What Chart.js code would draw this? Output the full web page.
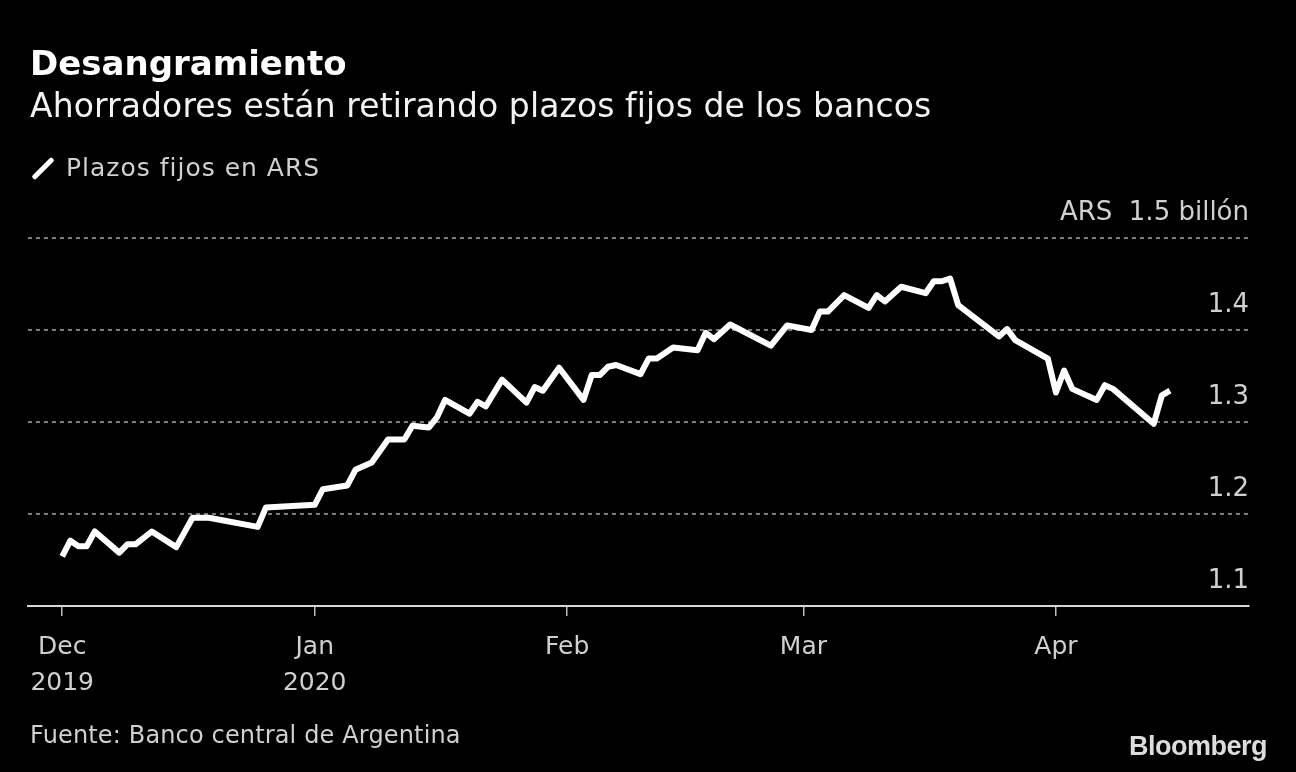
<!DOCTYPE html>
<html lang="es">
<head>
<meta charset="utf-8">
<title>Desangramiento</title>
<script src="https://cdn.jsdelivr.net/npm/chart.js@4.4.1/dist/chart.umd.min.js"></script>
<style>
  body { margin: 0; background: #000; }
  #wrap { position: relative; width: 1296px; height: 772px; background: #000; overflow: hidden; }
  #wrap canvas { position: absolute; left: 0; top: 0; }
  .txt { position: absolute; left: 30px; white-space: nowrap; line-height: 1; font-family: "DejaVu Sans", sans-serif; }
  .title { top: 46px; font-size: 34px; font-weight: bold; color: #fff; }
  .sub { top: 89px; font-size: 33px; letter-spacing: 0.1px; color: #f2f2f2; }
  .legend { top: 155px; left: 66px; font-size: 25px; letter-spacing: 1px; color: #d0d0d0; }
  .swatch { position: absolute; left: 29px; top: 166px; width: 28px; height: 5px; background: #fff; border-radius: 2px; transform: rotate(-45deg); }
  .source { top: 723px; font-size: 24px; letter-spacing: 0.15px; color: #d0d0d0; }
  .logo { position: absolute; left: 1129px; top: 731px; font-family: "Liberation Sans", Arial, sans-serif; font-weight: bold; font-size: 27px; letter-spacing: -0.5px; color: #dcdcdc; }
</style>
</head>
<body>
<div id="wrap">
  <canvas id="plazos" width="1296" height="772"></canvas>
  <div class="txt title">Desangramiento</div>
  <div class="txt sub">Ahorradores están retirando plazos fijos de los bancos</div>
  <div class="swatch"></div>
  <div class="txt legend">Plazos fijos en ARS</div>
  <div class="txt source">Fuente: Banco central de Argentina</div>
  <div class="logo">Bloomberg</div>
</div>
<script>
// plazos fijos, billones de ARS
const fechas = [
  '2019-12-01','2019-12-02','2019-12-03','2019-12-04','2019-12-05','2019-12-08','2019-12-09','2019-12-10',
  '2019-12-12','2019-12-15','2019-12-17','2019-12-19','2019-12-25','2019-12-26',
  '2020-01-01','2020-01-02','2020-01-05','2020-01-06','2020-01-08','2020-01-10','2020-01-12','2020-01-13',
  '2020-01-15','2020-01-16','2020-01-17','2020-01-20','2020-01-21','2020-01-22','2020-01-24','2020-01-27',
  '2020-01-28','2020-01-29','2020-01-31',
  '2020-02-03','2020-02-04','2020-02-05','2020-02-06','2020-02-07','2020-02-10','2020-02-11','2020-02-12',
  '2020-02-14','2020-02-17','2020-02-18','2020-02-19','2020-02-21','2020-02-26','2020-02-28',
  '2020-03-02','2020-03-03','2020-03-04','2020-03-06','2020-03-09','2020-03-10','2020-03-11','2020-03-13',
  '2020-03-16','2020-03-17','2020-03-18','2020-03-19','2020-03-20','2020-03-25','2020-03-26','2020-03-27',
  '2020-03-31',
  '2020-04-01','2020-04-02','2020-04-03','2020-04-06','2020-04-07','2020-04-08','2020-04-13','2020-04-14',
  '2020-04-15'
];
const plazosFijos = [
  1.154, 1.171, 1.165, 1.165, 1.181, 1.158, 1.167, 1.167,
  1.181, 1.164, 1.196, 1.196, 1.186, 1.207,
  1.210, 1.227, 1.231, 1.248, 1.256, 1.281, 1.281, 1.296,
  1.294, 1.305, 1.324, 1.309, 1.322, 1.317, 1.346, 1.321,
  1.338, 1.334, 1.359,
  1.324, 1.351, 1.351, 1.360, 1.362, 1.352, 1.369, 1.369,
  1.381, 1.378, 1.397, 1.390, 1.406, 1.383, 1.405,
  1.400, 1.420, 1.420, 1.438, 1.424, 1.438, 1.431, 1.447,
  1.440, 1.453, 1.453, 1.456, 1.427, 1.393, 1.401, 1.389,
  1.369,
  1.332, 1.356, 1.336, 1.324, 1.340, 1.336, 1.298, 1.329,
  1.334
];
const yTicks = [1.1, 1.2, 1.3, 1.4, 1.5];
const mesesInicio = ['2019-12-01','2020-01-01','2020-02-01','2020-03-01','2020-04-01'];
const mesesEtiquetas = [['Dec','2019'], ['Jan','2020'], 'Feb', 'Mar', 'Apr'];

document.addEventListener('DOMContentLoaded', function(){

  const base = Date.UTC(2019, 11, 1);
  function dia(s){
    var p = s.split('-');
    return (Date.UTC(+p[0], +p[1] - 1, +p[2]) - base) / 86400000;
  }

  const puntos = fechas.map((f, i) => ({ x: dia(f), y: plazosFijos[i] }));
  const tickDias = mesesInicio.map(dia);

  const config = {
    type: 'line',
    data: {
      datasets: [{
        label: 'Plazos fijos en ARS',
        data: puntos,
        borderColor: '#ffffff',
        borderWidth: 6,
        pointRadius: 0,
        tension: 0,
        borderJoinStyle: 'round',
        fill: false
      }]
    },
    options: {
      responsive: false,
      animation: false,
      layout: { padding: { left: 28, right: 47, top: 238, bottom: 66 } },
      plugins: { legend: { display: false }, tooltip: { enabled: false } },
      scales: {
        x: {
          type: 'linear',
          min: -4.2,
          max: 145.7,
          afterBuildTicks: function(scale){
            scale.ticks = tickDias.map(v => ({ value: v }));
          },
          afterFit: function(scale){
            scale.height = 100;
            scale.paddingLeft = 0;
            scale.paddingRight = 0;
          },
          grid: { drawOnChartArea: false, drawTicks: true, tickLength: 10, color: '#bdbdbd', lineWidth: 1.5 },
          border: { display: true, color: '#d6d6d6', width: 2 },
          ticks: {
            autoSkip: false,
            maxRotation: 0,
            padding: 13,
            color: '#d0d0d0',
            font: { family: '"DejaVu Sans", sans-serif', size: 25, lineHeight: 1.45 },
            callback: function(value){
              var i = tickDias.indexOf(value);
              return i >= 0 ? mesesEtiquetas[i] : '';
            }
          }
        },
        y: {
          position: 'right',
          min: 1.1,
          max: 1.5,
          afterBuildTicks: function(scale){
            scale.ticks = yTicks.map(v => ({ value: v }));
          },
          afterFit: function(scale){
            scale.paddingTop = 0;
            scale.paddingBottom = 0;
          },
          grid: {
            drawTicks: false,
            lineWidth: 2,
            color: ctx => (ctx.tick && ctx.tick.value <= 1.1) ? 'rgba(0,0,0,0)' : '#7c7c7c'
          },
          border: { display: false, dash: [4, 4] },
          ticks: {
            mirror: true,
            padding: 0,
            labelOffset: -25,
            color: '#d0d0d0',
            font: { family: '"DejaVu Sans", sans-serif', size: 26 },
            callback: function(value){
              var s = value.toFixed(1);
              return value >= 1.5 ? 'ARS  ' + s + ' billón' : s;
            }
          }
        }
      }
    }
  };

  var chart = new Chart(document.getElementById('plazos'), config);

});
</script>
</body>
</html>
